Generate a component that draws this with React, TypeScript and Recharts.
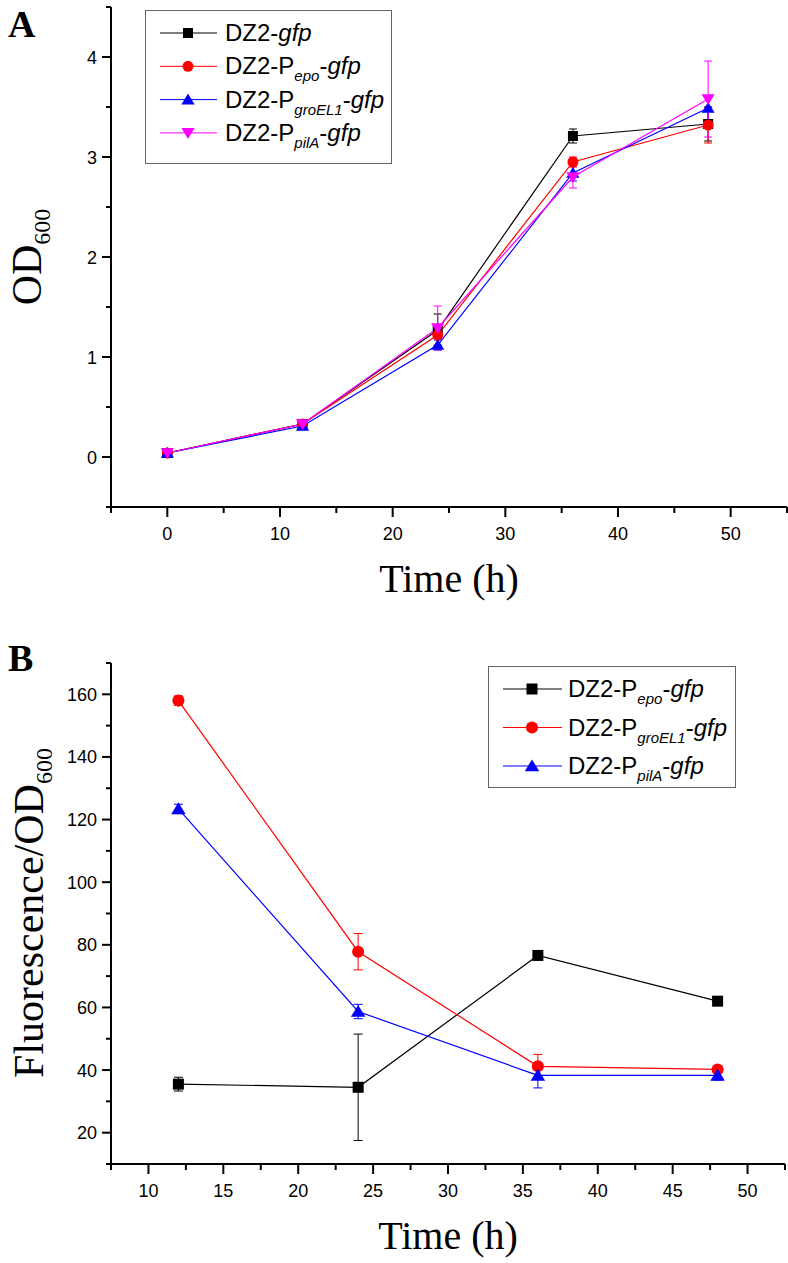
import { LineChart, Line, XAxis, YAxis, ErrorBar } from 'recharts';

// panel A: growth curves (OD600)
const hoursA = [0, 12, 24, 36, 48];
const odGfp = [0.04, 0.33, 1.27, 3.21, 3.33];
const odGfpErr = [0.02, 0.02, 0.16, 0.07, 0.17];
const odEpo = [0.04, 0.33, 1.22, 2.95, 3.32];
const odEpoErr = [0.02, 0.02, 0.1, 0.05, 0.18];
const odGroEL = [0.04, 0.31, 1.12, 2.84, 3.49];
const odGroELErr = [0.02, 0.02, 0.05, 0.08, 0.12];
const odPilA = [0.04, 0.33, 1.29, 2.8, 3.58];
const odPilAErr = [0.02, 0.02, 0.22, 0.11, 0.38];

// panel B: fluorescence / OD600
const hoursB = [12, 24, 36, 48];
const flEpo = [35.5, 34.5, 76.6, 62];
const flEpoErr = [2.2, 17, 1, 1];
const flGroEL = [158, 77.8, 41.2, 40.2];
const flGroELErr = [1.5, 5.8, 3.8, 1];
const flPilA = [123.4, 58.7, 38.3, 38.3];
const flPilAErr = [1.5, 2.3, 4, 1.5];

const xTicksA = [-5, 0, 5, 10, 15, 20, 25, 30, 35, 40, 45, 50, 55];
const yTicksA = [-0.5, 0, 0.5, 1, 1.5, 2, 2.5, 3, 3.5, 4, 4.5];
const xTicksB = [7.5, 10, 12.5, 15, 17.5, 20, 22.5, 25, 27.5, 30, 32.5, 35, 37.5, 40, 42.5, 45, 47.5, 50, 52.5];
const yTicksB = [10, 20, 30, 40, 50, 60, 70, 80, 90, 100, 110, 120, 130, 140, 150, 160, 170];

const dataA = hoursA.map((h, i) => ({
  h,
  gfp: odGfp[i], gfpErr: odGfpErr[i],
  epo: odEpo[i], epoErr: odEpoErr[i],
  gro: odGroEL[i], groErr: odGroELErr[i],
  pil: odPilA[i], pilErr: odPilAErr[i],
}));

const dataB = hoursB.map((h, i) => ({
  h,
  epo: flEpo[i], epoErr: flEpoErr[i],
  gro: flGroEL[i], groErr: flGroELErr[i],
  pil: flPilA[i], pilErr: flPilAErr[i],
}));

const SANS = '"Liberation Sans", Arial, sans-serif';
const SERIF = '"Liberation Serif", "Times New Roman", serif';

function Marker({ cx, cy, shape, color, s = 1 }: any) {
  if (shape === 'square') {
    return <rect x={cx - 5 * s} y={cy - 5 * s} width={10 * s} height={10 * s} fill={color} />;
  }
  if (shape === 'circle') {
    return <circle cx={cx} cy={cy} r={5.5 * s} fill={color} />;
  }
  const h = 6 * s;
  if (shape === 'up') {
    return <polygon points={`${cx},${cy - h} ${cx - h * 1.1},${cy + h * 0.8} ${cx + h * 1.1},${cy + h * 0.8}`} fill={color} />;
  }
  return <polygon points={`${cx},${cy + h} ${cx - h * 1.1},${cy - h * 0.8} ${cx + h * 1.1},${cy - h * 0.8}`} fill={color} />;
}

const makeXTick = (isMajor: (v: number) => boolean) => (props: any) => {
  const { x, y, payload } = props;
  const major = isMajor(payload.value);
  return (
    <g>
      <line x1={x} x2={x} y1={y} y2={y + (major ? 10 : 6)} stroke="#000" strokeWidth={2} />
      {major && (
        <text x={x} y={y + 33} textAnchor="middle" fontSize={18} fontFamily={SANS} fill="#000">
          {payload.value}
        </text>
      )}
    </g>
  );
};

const makeYTick = (isMajor: (v: number) => boolean) => (props: any) => {
  const { x, y, payload } = props;
  const major = isMajor(payload.value);
  return (
    <g>
      <line x1={x - (major ? 9 : 5)} x2={x} y1={y} y2={y} stroke="#000" strokeWidth={2} />
      {major && (
        <text x={x - 14} y={y + 6.5} textAnchor="end" fontSize={18} fontFamily={SANS} fill="#000">
          {payload.value}
        </text>
      )}
    </g>
  );
};

const dotFor = (shape: string, color: string, s: number) => (p: any) => (
  <Marker key={`${shape}-${p.index}`} cx={p.cx} cy={p.cy} shape={shape} color={color} s={s} />
);

function LegendText({ x, y, sub }: any) {
  return (
    <text x={x} y={y} fontSize={24} fontFamily={SANS} fill="#000">
      {sub ? 'DZ2-P' : 'DZ2-'}
      {sub && (
        <tspan dy={7} fontSize={15} fontStyle="italic">{sub}</tspan>
      )}
      {sub && <tspan dy={-7}>-</tspan>}
      <tspan fontStyle="italic">gfp</tspan>
    </text>
  );
}

const legendA = [
  { sub: '', color: '#000000', shape: 'square' },
  { sub: 'epo', color: '#ff0000', shape: 'circle' },
  { sub: 'groEL1', color: '#0000ff', shape: 'up' },
  { sub: 'pilA', color: '#ff00ff', shape: 'down' },
];
const legendB = [
  { sub: 'epo', color: '#000000', shape: 'square' },
  { sub: 'groEL1', color: '#ff0000', shape: 'circle' },
  { sub: 'pilA', color: '#0000ff', shape: 'up' },
];

export default function App() {
  return (
    <div style={{ position: 'absolute', left: 0, top: 0, width: 788, height: 1263, background: '#fff' }}>
      <div style={{ position: 'absolute', left: 0, top: 0 }}>
        <LineChart width={788} height={620} data={dataA} margin={{ top: 7, right: 1, bottom: 0, left: 0 }}>
          <XAxis
            dataKey="h" type="number" domain={[-5, 55]} ticks={xTicksA} interval={0} allowDataOverflow
            height={113} tickSize={0} tickMargin={0} tickLine={false}
            axisLine={{ stroke: '#000', strokeWidth: 2 }}
            tick={makeXTick((v) => v % 10 === 0)}
            label={() => (
              <text x={449} y={592} textAnchor="middle" fontSize={40} fontFamily={SERIF} fill="#000">Time (h)</text>
            )}
          />
          <YAxis
            type="number" domain={[-0.5, 4.5]} ticks={yTicksA} interval={0} allowDataOverflow
            width={111} tickSize={0} tickMargin={0} tickLine={false}
            axisLine={{ stroke: '#000', strokeWidth: 2 }}
            tick={makeYTick((v) => Number.isInteger(v))}
            label={() => (
              <text x={41} y={257} transform="rotate(-90 41 257)" textAnchor="middle" fontSize={42} fontFamily={SERIF} fill="#000">
                OD<tspan dy={9} fontSize={24}>600</tspan>
              </text>
            )}
          />
          <Line dataKey="gfp" stroke="#000000" strokeWidth={1.2} dot={dotFor('square', '#000000', 1)} activeDot={false} isAnimationActive={false}>
            <ErrorBar dataKey="gfpErr" direction="y" width={4} stroke="#000000" strokeWidth={1} isAnimationActive={false} />
          </Line>
          <Line dataKey="epo" stroke="#ff0000" strokeWidth={1.2} dot={dotFor('circle', '#ff0000', 1)} activeDot={false} isAnimationActive={false}>
            <ErrorBar dataKey="epoErr" direction="y" width={4} stroke="#ff0000" strokeWidth={1} isAnimationActive={false} />
          </Line>
          <Line dataKey="gro" stroke="#0000ff" strokeWidth={1.2} dot={dotFor('up', '#0000ff', 1)} activeDot={false} isAnimationActive={false}>
            <ErrorBar dataKey="groErr" direction="y" width={4} stroke="#0000ff" strokeWidth={1} isAnimationActive={false} />
          </Line>
          <Line dataKey="pil" stroke="#ff00ff" strokeWidth={1.2} dot={dotFor('down', '#ff00ff', 1)} activeDot={false} isAnimationActive={false}>
            <ErrorBar dataKey="pilErr" direction="y" width={4} stroke="#ff00ff" strokeWidth={1} isAnimationActive={false} />
          </Line>
        </LineChart>
      </div>

      <div style={{ position: 'absolute', left: 0, top: 630 }}>
        <LineChart width={788} height={633} data={dataB} margin={{ top: 33, right: 3, bottom: 0, left: 0 }}>
          <XAxis
            dataKey="h" type="number" domain={[7.5, 52.5]} ticks={xTicksB} interval={0} allowDataOverflow
            height={99} tickSize={0} tickMargin={0} tickLine={false}
            axisLine={{ stroke: '#000', strokeWidth: 2 }}
            tick={makeXTick((v) => v % 5 === 0)}
            label={() => (
              <text x={448} y={619} textAnchor="middle" fontSize={40} fontFamily={SERIF} fill="#000">Time (h)</text>
            )}
          />
          <YAxis
            type="number" domain={[10, 170]} ticks={yTicksB} interval={0} allowDataOverflow
            width={111} tickSize={0} tickMargin={0} tickLine={false}
            axisLine={{ stroke: '#000', strokeWidth: 2 }}
            tick={makeYTick((v) => v % 20 === 0)}
            label={() => (
              <text x={43} y={283} transform="rotate(-90 43 283)" textAnchor="middle" fontSize={42} fontFamily={SERIF} fill="#000">
                Fluorescence/OD<tspan dy={9} fontSize={24}>600</tspan>
              </text>
            )}
          />
          <Line dataKey="epo" stroke="#000000" strokeWidth={1.2} dot={dotFor('square', '#000000', 1.1)} activeDot={false} isAnimationActive={false}>
            <ErrorBar dataKey="epoErr" direction="y" width={4.5} stroke="#000000" strokeWidth={1} isAnimationActive={false} />
          </Line>
          <Line dataKey="gro" stroke="#ff0000" strokeWidth={1.2} dot={dotFor('circle', '#ff0000', 1.1)} activeDot={false} isAnimationActive={false}>
            <ErrorBar dataKey="groErr" direction="y" width={4.5} stroke="#ff0000" strokeWidth={1} isAnimationActive={false} />
          </Line>
          <Line dataKey="pil" stroke="#0000ff" strokeWidth={1.2} dot={dotFor('up', '#0000ff', 1.1)} activeDot={false} isAnimationActive={false}>
            <ErrorBar dataKey="pilErr" direction="y" width={4.5} stroke="#0000ff" strokeWidth={1} isAnimationActive={false} />
          </Line>
        </LineChart>
      </div>

      <svg width={788} height={1263} style={{ position: 'absolute', left: 0, top: 0, pointerEvents: 'none' }}>
        <text x={8} y={37} fontSize={38} fontWeight="bold" fontFamily={SERIF} fill="#000">A</text>
        <text x={8} y={671} fontSize={38} fontWeight="bold" fontFamily={SERIF} fill="#000">B</text>

        <g transform="translate(145,10)">
          <rect x={0.5} y={0.5} width={246} height={153} fill="none" stroke="#666" strokeWidth={1} />
          {legendA.map((r, i) => {
            const cy = 23 + i * 33.3;
            return (
              <g key={r.sub || 'gfp'}>
                <line x1={15} x2={72} y1={cy} y2={cy} stroke={r.color} strokeWidth={1} />
                <Marker cx={43} cy={cy} shape={r.shape} color={r.color} s={1} />
                <LegendText x={80} y={cy + 8} sub={r.sub} />
              </g>
            );
          })}
        </g>

        <g transform="translate(488,666)">
          <rect x={0.5} y={0.5} width={247} height={121} fill="none" stroke="#666" strokeWidth={1} />
          {legendB.map((r, i) => {
            const cy = 23 + i * 38.5;
            return (
              <g key={r.sub}>
                <line x1={15} x2={74} y1={cy} y2={cy} stroke={r.color} strokeWidth={1} />
                <Marker cx={44} cy={cy} shape={r.shape} color={r.color} s={1.1} />
                <LegendText x={80} y={cy + 8} sub={r.sub} />
              </g>
            );
          })}
        </g>
      </svg>
    </div>
  );
}
